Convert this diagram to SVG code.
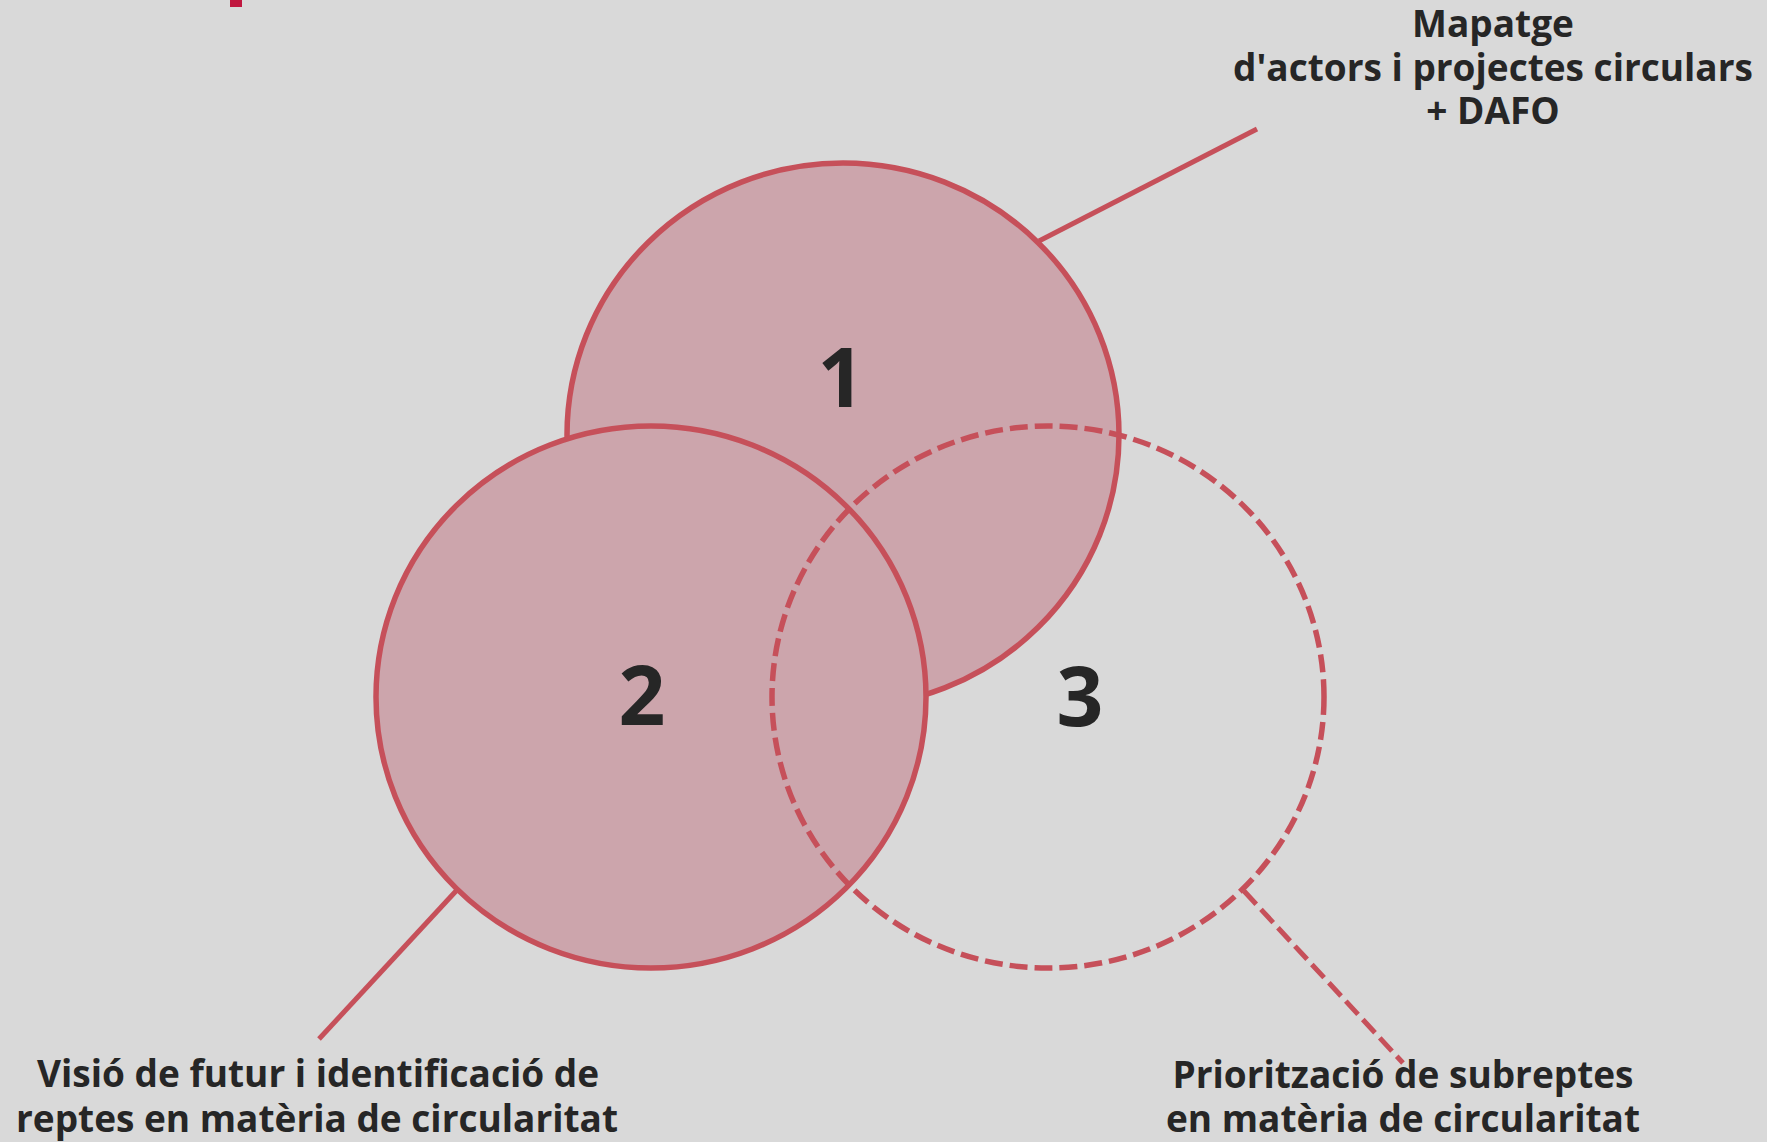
<svg xmlns="http://www.w3.org/2000/svg" width="1767" height="1142" viewBox="0 0 1767 1142">
<style>
.bg{fill:#d9d9d9}
.c{stroke:#c6505a;stroke-width:5.5}
.f{fill:#cca5ac}
.d{stroke-dasharray:18 7;fill:none}
.con{stroke:#c6505a;stroke-width:5;fill:none}
.num{font-family:"Open Sans","Liberation Sans",sans-serif;font-weight:700;font-size:82px;fill:#262626;text-anchor:middle}
.lbl{font-family:"Open Sans","Liberation Sans",sans-serif;font-weight:700;font-size:37px;fill:#262626;text-anchor:middle}
</style>
<rect class="bg" x="0" y="0" width="1767" height="1142"/>
<rect x="230" y="0" width="12" height="7" fill="#c0173f"/>
<g id="connectors">
<line class="con" x1="1039" y1="241" x2="1257" y2="129"/>
<line class="con" x1="456" y1="891" x2="319" y2="1039"/>
<line class="con d" x1="1244" y1="891" x2="1403" y2="1063"/>
</g>
<g id="node1">
<ellipse class="c f" cx="843" cy="435" rx="276" ry="272"/>
<text class="num" x="841" y="407">1</text>
</g>
<g id="node2">
<ellipse class="c f" cx="651" cy="697" rx="275" ry="271"/>
<text class="num" x="642" y="725">2</text>
</g>
<g id="node3">
<ellipse class="c d" cx="1048" cy="697" rx="276" ry="271"/>
<text class="num" x="1080" y="726">3</text>
</g>
<g id="label1">
<text class="lbl" x="1493" y="37">Mapatge</text>
<text class="lbl" x="1493" y="81">d'actors i projectes circulars</text>
<text class="lbl" x="1493" y="124">+ DAFO</text>
</g>
<g id="label2">
<text class="lbl" x="318" y="1087">Visió de futur i identificació de</text>
<text class="lbl" x="317" y="1132">reptes en matèria de circularitat</text>
</g>
<g id="label3">
<text class="lbl" x="1403" y="1088">Priorització de subreptes</text>
<text class="lbl" x="1403" y="1132">en matèria de circularitat</text>
</g>
</svg>
